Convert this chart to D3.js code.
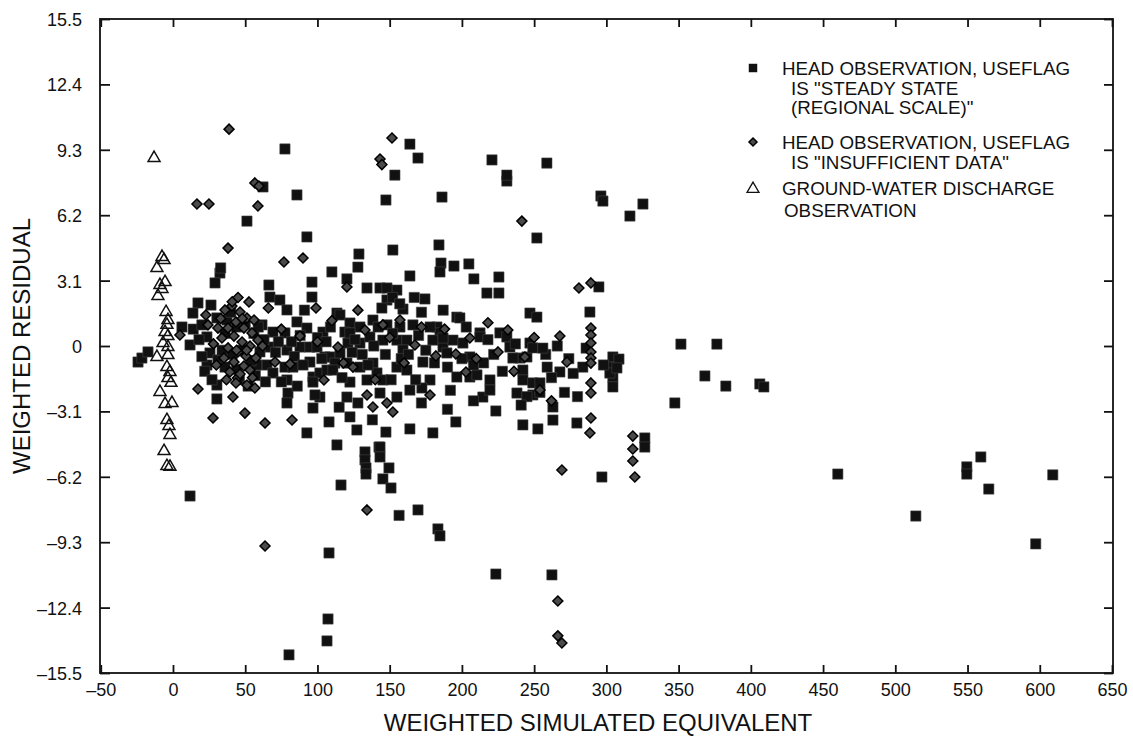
<!DOCTYPE html>
<html><head><meta charset="utf-8">
<script src="https://cdn.jsdelivr.net/npm/d3@7"></script>
<style>
body{margin:0;background:#fff}
svg{display:block}
text{font-family:"Liberation Sans",Arial,Helvetica,sans-serif;fill:#111}
</style>
</head><body>
<svg id="chart" width="1133" height="740"></svg>
<script>
const xTicks = [-50,0,50,100,150,200,250,300,350,400,450,500,550,600,650];
const yTicks = [-15.5,-12.4,-9.3,-6.2,-3.1,0,3.1,6.2,9.3,12.4,15.5];
const xTitle = "WEIGHTED SIMULATED EQUIVALENT";
const yTitle = "WEIGHTED RESIDUAL";
const legendSteady = ["HEAD OBSERVATION, USEFLAG", "IS \"STEADY STATE", "(REGIONAL SCALE)\""];
const legendInsuff = ["HEAD OBSERVATION, USEFLAG", "IS \"INSUFFICIENT DATA\""];
const legendDischarge = ["GROUND-WATER DISCHARGE", "OBSERVATION"];

// Head observation, useflag "steady state (regional scale)"
const steadyState = [
[-24.2,-0.76],[-21.5,-0.57],[-17.3,-0.28],[11.8,-7.11],[6.2,0.9],[11.8,0.05],
[77.5,9.34],[51.2,5.92],[62.3,7.54],[85.8,7.16],[92.7,5.17],[128.7,4.36],[128,3.74],[110,3.51],
[164,9.57],[169.6,8.91],[153.6,8.1],[147.4,6.92],[152.2,4.55],[186.2,7.06],[184.1,4.79],[185.5,3.93],
[220.8,8.82],[258.8,8.67],[231.1,7.82],[231.1,8.1],[296.2,7.11],[297.6,6.87],[325.3,6.73],[316.3,6.16],
[251.9,5.12],[194.5,3.79],[204.8,3.89],[184.8,3.51],[164,3.32],[208.3,3.18],[225.6,3.27],[217.3,2.51],
[225.6,2.51],[174.4,2.23],[32.5,3.46],[29.1,2.99],[66.4,2.89],[96.2,3.03],[120.4,3.18],[96.2,2.32],
[17.3,2.04],[26.3,1.94],[13.8,1.56],[67.1,2.32],[74,2.18],[78.9,1.71],[85.8,1.14],[61.6,1],[92.7,0.85],
[87.9,-0.05],[94.8,-0.05],[99.7,-0.05],[103.8,0.66],[105.2,-0.52],[113.5,1.56],[115.6,1.47],[122.5,1.09],
[129.4,0.9],[134.3,2.75],[143.3,2.75],[155,2.65],[148.1,2.18],[144.6,1.8],[159.2,1.75],[138.4,1.23],
[148.1,1],[157.1,0.9],[166.1,1],[30.4,1.33],[37.4,1.23],[23.5,0.43],[25.6,-0.33],[23.5,-0.9],[31.1,-0.66],
[30.4,-1.85],[30.4,-2.51],[69.2,0.66],[67.1,-0.05],[60.2,-0.28],[65.1,-0.9],[69.2,-1.28],[77.5,0.62],
[78.9,-0.19],[77.5,-1],[78.9,-1.61],[79.6,-2.23],[78.9,-2.7],[83,-1],[96.9,-1.47],[101.7,-2.42],
[96.9,-2.94],[92.7,-4.12],[113.5,-4.69],[108.7,-0.52],[112.1,-0.81],[115.6,-0.33],[119,0.66],[121.1,0.14],
[94.8,-0.76],[101.7,-1.28],[106.6,-1.14],[110.7,-1.14],[96.9,-1.71],[98.3,-2.32],[122.5,0.62],[129.4,0.14],
[136.3,0.43],[145.3,0.28],[155,0.28],[161.9,0.28],[159.2,-0.19],[120.4,-0.81],[129.4,-1],[138.4,-0.81],
[141.2,-1.28],[145.3,-1.61],[155,-1],[161.9,-1.14],[122.5,-1.71],[134.3,-1.61],[143.3,-2.23],[155,-2.42],
[164,-2.09],[120.4,-2.42],[122.5,-3.36],[127.3,-3.98],[147.4,-4.08],[164,-3.93],[179.9,-4.12],[195.8,-3.6],
[142.6,-4.79],[182.7,0.9],[184.8,0.62],[179.9,0.28],[186.9,-0.05],[189.6,-0.33],[193.8,0.28],[200.7,0.14],
[173,-0.76],[196.5,-1.47],[205.5,-1.47],[210.4,-1.37],[177.9,-1.61],[172.3,-1.99],[214.5,-2.42],[223.5,-3.08],
[212.5,0.62],[212.5,0.43],[196.5,1.37],[198.6,1.33],[226.3,0.62],[231.1,0.43],[233.2,-0.05],[219.4,-1.61],
[219.4,-2.09],[240.1,-0.57],[245,-0.52],[242.2,-1.14],[242.2,-1.61],[249.1,-1.75],[254,-1.75],[238.1,-2.23],
[249.1,-2.32],[263,-2.89],[263,-3.51],[252.6,-3.93],[242.2,-3.74],[279.6,-3.65],[247.1,1.56],[251.9,1.37],
[247.1,0.14],[249.1,-0.09],[267.8,-1.23],[283.7,-1],[288.6,1.61],[294.8,2.8],[304.5,-0.52],[304.5,-1],
[304.5,-1.47],[304.5,-1.94],[302.4,-1.28],[326.6,-4.36],[326.6,-4.79],[296.9,-6.21],[132.9,-5.02],
[132.9,-5.4],[133.6,-5.78],[133.6,-6.07],[143.3,-4.79],[143.3,-5.26],[149.5,-5.78],[145.3,-6.3],[150.9,-6.73],
[116.3,-6.59],[156.5,-8.03],[169.6,-7.77],[183.4,-8.67],[184.8,-9],[108,-9.81],[107.3,-12.94],[106.6,-13.98],
[80.3,-14.64],[223.5,-10.81],[262.3,-10.85],[460.2,-6.07],[514.2,-8.06],[597.2,-9.38],[609,-6.11],
[549.5,-5.73],[549.5,-6.07],[559.2,-5.26],[564.7,-6.78],[351.6,0.09],[376.5,0.09],[368.2,-1.42],[382.7,-1.9],
[406.2,-1.8],[409,-1.94],[347.4,-2.7],[308.7,-0.62],[307.3,-1.04],[186.9,0.38],[205.5,-0.52],[235.3,-0.57],
[254,-2.2],[245,-2.4],[148.1,2.75],[152,2.3],[157,2.0],[33,3.7],[14,0.8],[18,0.3],[20,-0.5],[44,0.9],
[36,-1.0],[46,-1.6],[56,0.6],[58,-0.9],[52,-1.9],[40,1.6],[88,0.5],[103,-0.6],[170,0.5],[175,-0.2],
[168,-1.6],[190,-1.0],[200,-0.6],[215,-0.8],[228,-1.2],[258,-0.4],[262,-1.5],[274,-0.6],[280,-2.4],
[20,1.0],[22,-1.2],[27,-1.6],[34,-0.2],[36,0.6],[41,-0.4],[44,-1.1],[48,-0.2],[50,1.1],[54,-0.7],[57,-1.4],
[59,0.9],[63,0.3],[64,-1.7],[71,-0.3],[73,0.2],[75,-1.7],[82,0.2],[84,-0.5],[86,-1.9],[90,-0.9],[91,1.7],
[100,0.4],[106,0.2],[109,0.9],[117,-1.5],[124,-0.3],[126,0.3],[131,-0.4],[135,-0.9],[139,0.0],[142,0.9],
[147,-0.4],[151,-1.6],[152,0.6],[158,-0.6],[163,-0.4],[167,2.3],[172,1.6],[178,0.9],[181,-0.8],[187,1.7],
[192,-2.1],[203,0.9],[208,-0.9],[218,0.3],[222,-0.4],[237,0.1],[241,-2.8],[256,-0.1],[259,-1.0],[266,0.0],
[271,-2.2],[277,-1.3],[286,-0.1],[298,-0.9],[108,-3.6],[115,-2.9],[128,-2.7],[138,-3.5],[172,-2.7],
[190,-3.0],[208,-2.6]
];

// Head observation, useflag "insufficient data"
const insufficient = [
[38.8,10.28],[151.6,9.86],[143.3,8.86],[144.6,8.6],[56.7,7.73],[59.5,7.58],[16.6,6.73],[24.9,6.73],[58.8,6.64],
[38.1,4.64],[76.8,3.98],[90,4.17],[241.5,5.92],[281,2.75],[289.3,2.99],[120.4,2.8],[99,1.8],[52.6,2.09],
[22.8,1.47],[24.2,1],[4.8,0.52],[267.8,0.47],[272.7,-0.76],[289.3,0.85],[289.3,0.52],[289.3,0.14],
[289.3,-0.28],[289.3,-0.57],[289.3,-0.81],[289.3,-1.75],[289.3,-2.23],[289.3,-3.41],[288.6,-4.12],
[243.6,-0.52],[318.3,-4.27],[318.3,-4.88],[318.3,-5.45],[319.7,-6.21],[269.2,-5.88],[266.4,-12.09],
[266.4,-13.74],[269.2,-14.08],[63.7,-9.48],[134.3,-7.77],[63.7,-3.65],[82.4,-3.51],[27.7,-3.41],[17.3,-2.04],
[41.5,-2.42],[49.8,-3.18],[51.2,-1.85],[44.6,-1.52],[124.6,-1],[134.3,-2.32],[138.4,-2.89],[114.2,-0.05],
[152.2,-3.13],[148.1,-2.7],[182,-0.47],
[36,1.71],[40.8,1.9],[46.4,1.61],[51.2,1.33],[43.6,1.14],[38.1,0.85],[49.1,0.85],[54.7,0.62],[33.9,0.38],
[42.2,0.47],[47.8,0.19],[53.3,0],[38.1,-0.09],[45,-0.28],[50.5,-0.47],[35.3,-0.57],[42.2,-0.76],[49.1,-0.95],
[39.4,-1.23],[46.4,-1.33],[53.3,-1.14],[43.6,-1.75],[56.1,1.23],[31.1,0.85],[58.8,0.28],[57.4,-0.57],
[132.9,0.76],[157.1,1.23],[167.5,0.05],[205.5,0.38],[225,-0.28],[177.9,-2.32],[202.8,-1.23],[231.8,0.76],
[145.3,1],[87.9,0.47],[70.6,-0.76],[56.7,-1.99],[81,-0.85],[104.5,-1.61],[195.8,-0.38],[254,-2.09],
[28,0.1],[30,-0.9],[33,1.3],[37,-1.6],[41,2.1],[44,-0.2],[48,1.3],[51,-0.2],[55,-1.5],[45,2.3],[62,0.0],
[66,1.8],[75,0.8],[100,0.2],[110,1.2],[118,-0.8],[128,1.7],[140,-1.6],[150,0.4],[160,-0.8],[172,0.9],
[188,0.8],[210,-0.6],[218,1.1],[236,-1.2],[250,0.4],[262,-2.6]
];

// Ground-water discharge observation
const discharge = [
[-13.1,8.91],[-7.6,4.22],[-6.2,4.08],[-11.1,3.7],[-5.5,3.03],[-9,2.89],[-7.6,2.7],[-10.4,2.37],[-4.8,1.61],
[-3.5,1.23],[-4.2,1],[-5.5,0.66],[-3.5,0.47],[-6.9,0.14],[-3.5,-0.05],[-11.1,-0.52],[-3.5,-0.43],[-4.2,-1],
[-2.1,-1.23],[-3.5,-1.52],[-1.4,-1.75],[-9,-2.18],[-5.5,-2.75],[-0.7,-2.7],[-4.2,-3.51],[-2.8,-3.79],
[-2.1,-4.22],[-6.2,-4.98],[-4.2,-5.69],[-2.1,-5.73]
];

const L = 100, R = 1113, T = 19, B = 673;
const svg = d3.select("#chart");
const x = d3.scaleLinear().domain([-50, 650]).range([L + 0.75, R - 1]);
const y = d3.scaleLinear().domain([-15.5, 15.5]).range([B, T]);
const fmt = d => d < 0 ? "\u2013" + Math.abs(d) : String(d);

// Frame
svg.append("rect").attr("x", L).attr("y", T).attr("width", R - L).attr("height", B - T)
  .attr("fill", "none").attr("stroke", "#111").attr("stroke-width", 1.8);

const tickStyle = g => { g.select(".domain").remove(); g.selectAll("line").attr("stroke", "#111").attr("stroke-width", 1.8); g.selectAll("text").attr("fill", "#111").style("font-size", "18px").style("font-family", "'Liberation Sans', Arial, sans-serif"); };

svg.append("g").attr("transform", `translate(${L},0)`)
  .call(d3.axisLeft(y).tickValues(yTicks).tickFormat(fmt).tickSizeInner(-10).tickSizeOuter(0).tickPadding(18))
  .call(tickStyle).selectAll("text").attr("dy", "0.36em");

svg.append("g").attr("transform", `translate(${R},0)`)
  .call(d3.axisRight(y).tickValues(yTicks).tickFormat("").tickSizeInner(-9).tickSizeOuter(0))
  .call(tickStyle);

svg.append("g").attr("transform", `translate(0,${B})`)
  .call(d3.axisBottom(x).tickValues(xTicks).tickFormat(fmt).tickSizeInner(-8).tickSizeOuter(0).tickPadding(10))
  .call(tickStyle);

svg.append("g").attr("transform", `translate(0,${T})`)
  .call(d3.axisTop(x).tickValues(xTicks).tickFormat("").tickSizeInner(-8).tickSizeOuter(0))
  .call(tickStyle);

// Titles
svg.append("text").attr("transform", `translate(30,${(T + B) / 2}) rotate(-90)`)
  .attr("text-anchor", "middle").style("font-size", "24px").text(yTitle);
svg.append("text").attr("x", 598).attr("y", 731)
  .attr("text-anchor", "middle").style("font-size", "24px").text(xTitle);

// Markers
const sq = d3.symbol().type(d3.symbolSquare).size(105);
const tri = d3.symbol().type(d3.symbolTriangle).size(62);
const diamondPath = "M0,-5L5,0L0,5L-5,0Z";

const plot = svg.append("g");
plot.selectAll("path.sq").data(steadyState).join("path").attr("class", "sq")
  .attr("d", sq).attr("transform", d => `translate(${x(d[0])},${y(d[1])})`)
  .attr("fill", "#111").attr("stroke", "#444").attr("stroke-width", 0.6);
plot.selectAll("path.dm").data(insufficient).join("path").attr("class", "dm")
  .attr("d", diamondPath).attr("transform", d => `translate(${x(d[0])},${y(d[1])})`)
  .attr("fill", "#4a4a4a").attr("stroke", "#000").attr("stroke-width", 1.5);
plot.selectAll("path.tr").data(discharge).join("path").attr("class", "tr")
  .attr("d", tri).attr("transform", d => `translate(${x(d[0])},${y(d[1])})`)
  .attr("fill", "#fff").attr("fill-opacity", 0).attr("stroke", "#111").attr("stroke-width", 1.5);

// Legend
const lg = svg.append("g").style("font-size", "18.8px");
const lx = 753, tx = 782;
lg.append("path").attr("d", d3.symbol().type(d3.symbolSquare).size(72)).attr("transform", `translate(${lx},68)`).attr("fill", "#111");
legendSteady.forEach((t, i) => lg.append("text").attr("x", tx + (i ? 9 : 0)).attr("y", 75 + i * 19.5).text(t));
lg.append("path").attr("d", "M0,-4L4,0L0,4L-4,0Z").attr("transform", `translate(${lx},142)`).attr("fill", "#4a4a4a").attr("stroke", "#000").attr("stroke-width", 1.5);
legendInsuff.forEach((t, i) => lg.append("text").attr("x", tx + (i ? 9 : 0)).attr("y", 149 + i * 19.5).text(t));
lg.append("path").attr("d", tri).attr("transform", `translate(${lx},189)`).attr("fill", "none").attr("stroke", "#111").attr("stroke-width", 1.3);
legendDischarge.forEach((t, i) => lg.append("text").attr("x", tx + (i ? 2 : 0)).attr("y", 195 + i * 21.5).text(t));
</script>
</body></html>
